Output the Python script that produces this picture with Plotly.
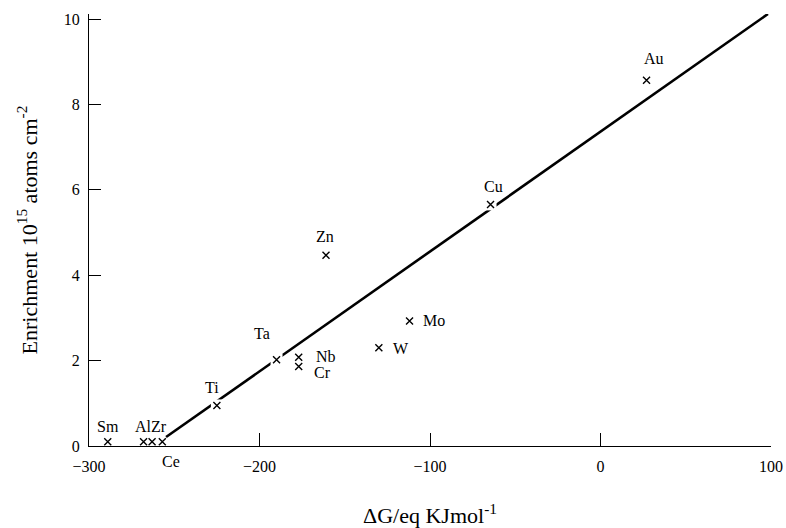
import plotly.graph_objects as go

# Data
elements = ["Sm", "Al", "Zr", "Ce", "Ti", "Ta", "Nb", "Cr", "Zn", "W", "Mo", "Cu", "Au"]
delta_g = [-289, -268, -263, -257, -225, -190, -177, -177, -161, -130, -112, -64.5, 27]
enrichment = [0.1, 0.1, 0.1, 0.1, 0.95, 2.02, 2.08, 1.86, 4.47, 2.3, 2.93, 5.66, 8.57]

fit_x = [-254.8, 98.2]
fit_y = [0.21, 10.12]

x_ticks = [-300, -200, -100, 0, 100]
y_ticks = [0, 2, 4, 6, 8, 10]

# label text and offsets (pixels) relative to the point
labels = ["Sm", "AlZr", "", "Ce", "Ti", "Ta", "Nb", "Cr", "Zn", "W", "Mo", "Cu", "Au"]
label_dx = [0, 7, 0, 9, -5, -15, 27, 24, -1, 22, 24, 3, 7]
label_dy = [15, 15, 0, -20, 18, 26, 1, -6, 19, -1, 0, 18, 22]

on_line = ["Ti", "Ta", "Cu"]

fig = go.Figure()

fig.add_trace(go.Scatter(
    x=fit_x, y=fit_y, mode="lines",
    line=dict(color="black", width=2.6), hoverinfo="skip", showlegend=False))

gap_x = [delta_g[elements.index(e)] for e in on_line]
gap_y = [enrichment[elements.index(e)] for e in on_line]
fig.add_trace(go.Scatter(
    x=gap_x, y=gap_y, mode="markers",
    marker=dict(symbol="square", size=12, color="white", line=dict(width=0)),
    hoverinfo="skip", showlegend=False))

fig.add_trace(go.Scatter(
    x=delta_g, y=enrichment, mode="markers",
    marker=dict(symbol="x-thin", size=7, line=dict(color="black", width=1.4)),
    text=elements, showlegend=False, cliponaxis=False))

for xv, yv, lab, dx, dy in zip(delta_g, enrichment, labels, label_dx, label_dy):
    if not lab:
        continue
    fig.add_annotation(x=xv, y=yv, text=lab, showarrow=False,
                       xshift=dx, yshift=dy,
                       font=dict(family="Liberation Serif", size=16, color="black"))

fig.update_layout(
    width=786, height=528,
    margin=dict(l=89, r=15, t=14, b=82),
    paper_bgcolor="white", plot_bgcolor="white",
    font=dict(family="Liberation Serif", color="black", size=16),
    xaxis=dict(
        range=[-300, 100], tickvals=x_ticks, ticks="inside", ticklen=13,
        tickwidth=1.2, tickcolor="black", showline=True, linecolor="black",
        linewidth=1.2, showgrid=False, zeroline=False, automargin=False,
        tickfont=dict(size=16), ticklabelstandoff=6,
        title=dict(text="ΔG/eq KJmol<sup>-1</sup>", font=dict(size=22), standoff=34),
    ),
    yaxis=dict(
        range=[0, 10.12], tickvals=y_ticks, ticks="inside", ticklen=12,
        tickwidth=1.2, tickcolor="black", showline=True, linecolor="black",
        linewidth=1.2, showgrid=False, zeroline=False, automargin=False,
        tickfont=dict(size=16), ticklabelstandoff=5,
        title=dict(text="Enrichment 10<sup>15</sup> atoms cm<sup>-2</sup>",
                   font=dict(size=22), standoff=20),
    ),
)

fig.write_html(
    "out.html",
    config={"displayModeBar": False},
    post_script="document.body.style.margin='0';document.body.style.overflow='hidden';",
)
